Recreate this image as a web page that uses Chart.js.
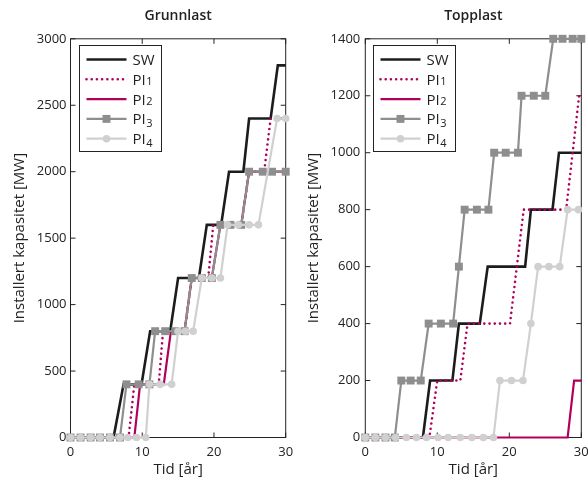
<!DOCTYPE html>
<html>
<head>
<meta charset="utf-8">
<script src="https://cdn.jsdelivr.net/npm/chart.js@4.4.1/dist/chart.umd.min.js"></script>
<style>
  html, body { margin: 0; padding: 0; background: #fff; }
  #wrap { position: relative; width: 588px; height: 484px; }
  .cell { position: absolute; top: 0; width: 294px; height: 484px; }
  #left { left: 0; }
  #right { left: 294px; }
</style>
</head>
<body>
<div id="wrap">
  <div class="cell" id="left"><canvas id="grunnlastChart"></canvas></div>
  <div class="cell" id="right"><canvas id="topplastChart"></canvas></div>
</div>
<script>
// series names, as in the legend
const seriesNames = ['SW', 'PI1', 'PI2', 'PI3', 'PI4'];

// Grunnlast (x = tid [år], y = MW)
const grunnSwX = [0, 6, 7.4, 9.9, 11.1, 13.9, 15, 17.9, 19, 21, 22.1, 24.1, 24.9, 27.9, 28.9, 30];
const grunnSwY = [0, 0, 400, 400, 800, 800, 1200, 1200, 1600, 1600, 2000, 2000, 2400, 2400, 2800, 2800];
const grunnPi1X = [0, 8.1, 8.9, 12.3, 12.9, 15.9, 16.9, 19.2, 19.9, 23.8, 24.9, 27.0, 27.9, 30];
const grunnPi1Y = [0, 0, 400, 400, 800, 800, 1200, 1200, 1600, 1600, 2000, 2000, 2400, 2400];
const grunnPi2X = [0, 8.9, 9.7, 13.0, 14.0, 15.9, 16.9, 19.7, 20.9, 23.8, 24.9, 30];
const grunnPi2Y = [0, 0, 400, 400, 800, 800, 1200, 1200, 1600, 1600, 2000, 2000];
const grunnPi3X = [0, 1.4, 2.8, 4.1, 5.5, 6.9, 7.8, 9.5, 11.0, 11.8, 13.2, 14.6, 15.9, 16.9, 18.3, 19.7, 20.9, 22.3, 23.8, 24.9, 26.8, 28.1, 30];
const grunnPi3Y = [0, 0, 0, 0, 0, 0, 400, 400, 400, 800, 800, 800, 800, 1200, 1200, 1200, 1600, 1600, 1600, 2000, 2000, 2000, 2000];
const grunnPi4X = [0, 1.4, 2.8, 4.1, 5.5, 6.9, 8.0, 9.2, 10.5, 11.0, 12.5, 14.1, 15.0, 16.0, 17.1, 18.3, 19.7, 20.9, 21.9, 23.4, 24.9, 26.2, 28.8, 30];
const grunnPi4Y = [0, 0, 0, 0, 0, 0, 0, 0, 0, 400, 400, 400, 800, 800, 800, 1200, 1200, 1200, 1600, 1600, 1600, 1600, 2400, 2400];

// Topplast
const toppSwX = [0, 8.0, 9.0, 12.1, 13.0, 15.9, 17.0, 22.2, 23.0, 26.0, 26.9, 30];
const toppSwY = [0, 0, 200, 200, 400, 400, 600, 600, 800, 800, 1000, 1000];
const toppPi1X = [0, 8.9, 10.0, 13.2, 14.2, 20.1, 22.0, 27.9, 29.7, 30];
const toppPi1Y = [0, 0, 200, 200, 400, 400, 800, 800, 1200, 1200];
const toppPi2X = [0, 28.1, 29.0, 30];
const toppPi2Y = [0, 0, 200, 200];
const toppPi3X = [0, 1.4, 2.8, 4.1, 5.0, 6.3, 7.7, 8.8, 10.5, 12.2, 13.0, 13.8, 15.5, 17.1, 17.9, 19.5, 21.2, 21.7, 23.4, 25.0, 26.1, 27.4, 28.8, 30];
const toppPi3Y = [0, 0, 0, 0, 200, 200, 200, 400, 400, 400, 600, 800, 800, 800, 1000, 1000, 1000, 1200, 1200, 1200, 1400, 1400, 1400, 1400];
const toppPi4X = [0, 1.4, 2.8, 4.2, 5.7, 7.1, 8.5, 10.1, 11.5, 13.2, 14.8, 16.4, 17.8, 18.7, 20.3, 21.9, 23.0, 24.0, 25.5, 27.0, 28.1, 29.6];
const toppPi4Y = [0, 0, 0, 0, 0, 0, 0, 0, 0, 0, 0, 0, 0, 200, 200, 200, 400, 600, 600, 600, 800, 800];

// axis ticks
const xTickValues = [0, 10, 20, 30];
const grunnYMax = 3000, grunnYStep = 500;
const toppYMax = 1400, toppYStep = 200;

const FONT = "'Open Sans', 'DejaVu Sans', sans-serif";
const INK = '#222';
const MAGENTA = '#b1005c';

const seriesStyles = [
  { borderColor: '#1c1c1c', borderWidth: 2.6, pointRadius: 0, order: 5 },
  { borderColor: MAGENTA, borderWidth: 2.6, borderDash: [0.01, 5.2], borderCapStyle: 'round', pointRadius: 0, order: 4 },
  { borderColor: MAGENTA, borderWidth: 2.2, pointRadius: 0, order: 3 },
  { borderColor: '#8e8e8e', borderWidth: 2.2, pointStyle: 'rect', pointRadius: 5.6, pointBackgroundColor: '#8e8e8e', order: 2 },
  { borderColor: '#d0d0d0', borderWidth: 2.2, pointStyle: 'circle', pointRadius: 3.8, pointBackgroundColor: '#d0d0d0', order: 1 }
];

function toPoints(xs, ys) {
  return xs.map((x, i) => ({ x, y: ys[i] }));
}

function makeDatasets(pairs) {
  return pairs.map(([xs, ys], i) => Object.assign({
    label: seriesNames[i],
    data: toPoints(xs, ys),
    fill: false,
    tension: 0,
    clip: false,
    pointBorderWidth: 0,
    pointHoverRadius: 0
  }, seriesStyles[i]));
}

// box with inward ticks on all four sides
const frameTicks = {
  id: 'frameTicks',
  beforeDatasetsDraw(chart) {
    const { ctx, chartArea: a, scales: { x, y } } = chart;
    ctx.save();
    ctx.strokeStyle = INK;
    ctx.lineWidth = 1;
    ctx.strokeRect(a.left, a.top, a.right - a.left, a.bottom - a.top);
    ctx.beginPath();
    x.ticks.forEach((t) => {
      const px = x.getPixelForValue(t.value);
      ctx.moveTo(px, a.bottom); ctx.lineTo(px, a.bottom - 5);
      ctx.moveTo(px, a.top); ctx.lineTo(px, a.top + 5);
    });
    y.ticks.forEach((t) => {
      const py = y.getPixelForValue(t.value);
      ctx.moveTo(a.left, py); ctx.lineTo(a.left + 5, py);
      ctx.moveTo(a.right, py); ctx.lineTo(a.right - 5, py);
    });
    ctx.stroke();
    ctx.restore();
  }
};

// legend drawn inside the plot, upper left, with a frame
const boxLegend = {
  id: 'boxLegend',
  afterDatasetsDraw(chart) {
    const { ctx, chartArea: a } = chart;
    const left = Math.round(a.left + 8) + 0.5, top = Math.round(a.top + 6) + 0.5;
    const w = 82, h = 106;
    ctx.save();
    ctx.fillStyle = '#fff';
    ctx.fillRect(left, top, w, h);
    ctx.strokeStyle = INK;
    ctx.lineWidth = 1;
    ctx.strokeRect(left, top, w, h);
    chart.data.datasets.forEach((ds, i) => {
      const cy = top + 14 + i * 19.8;
      ctx.strokeStyle = ds.borderColor;
      ctx.lineWidth = ds.borderWidth;
      ctx.lineCap = ds.borderCapStyle || 'butt';
      ctx.setLineDash(ds.borderDash || []);
      ctx.beginPath();
      ctx.moveTo(left + 7, cy);
      ctx.lineTo(left + 47, cy);
      ctx.stroke();
      ctx.setLineDash([]);
      if (ds.pointRadius > 0) {
        ctx.fillStyle = ds.pointBackgroundColor;
        Chart.helpers.drawPoint(ctx, { pointStyle: ds.pointStyle, radius: ds.pointRadius, rotation: 0, borderWidth: 0 }, left + 27, cy);
      }
      ctx.fillStyle = INK;
      ctx.textBaseline = 'alphabetic';
      ctx.textAlign = 'left';
      const base = cy + 5.5;
      const m = ds.label.match(/^(\D+)(\d)$/);
      if (m) {
        ctx.font = `15px ${FONT}`;
        ctx.fillText(m[1], left + 53, base);
        const wBase = ctx.measureText(m[1]).width;
        ctx.font = `11px ${FONT}`;
        const drop = (m[2] === '3' || m[2] === '4') ? 2.5 : 0;
        ctx.fillText(m[2], left + 53 + wBase + 0.5, base + drop);
      } else {
        ctx.font = `15px ${FONT}`;
        ctx.fillText(ds.label, left + 53, base);
      }
    });
    ctx.restore();
  }
};

function makeChart(id, title, pairs, yMax, yStep, yWidth, padRight, yTickPad) {
  return new Chart(document.getElementById(id), {
    type: 'line',
    data: { datasets: makeDatasets(pairs) },
    options: {
      responsive: true,
      maintainAspectRatio: false,
      animation: false,
      events: [],
      layout: { padding: { left: 0, right: padRight, top: 0, bottom: 0 } },
      plugins: {
        legend: { display: false },
        tooltip: { enabled: false },
        title: {
          display: true,
          text: title,
          fullSize: false,
          color: INK,
          font: { family: FONT, size: 14, weight: '600' },
          padding: { top: 8, bottom: 14 }
        }
      },
      scales: {
        x: {
          type: 'linear',
          min: 0,
          max: 30,
          afterBuildTicks: (scale) => { scale.ticks = xTickValues.map((v) => ({ value: v })); },
          afterFit: (scale) => {
            scale.height = 46.5;
            scale.paddingLeft = 0;
            scale.paddingRight = 0;
          },
          grid: { display: false, drawTicks: false },
          border: { display: false },
          ticks: { color: INK, padding: 7, font: { family: FONT, size: 13 }, maxRotation: 0, callback: (v) => String(v) },
          title: { display: true, text: 'Tid [år]', color: INK, font: { family: FONT, size: 15 }, padding: { top: 0, bottom: 5.6 } }
        },
        y: {
          min: 0,
          max: yMax,
          afterFit: (scale) => {
            scale.width = yWidth;
            scale.paddingTop = 0;
            scale.paddingBottom = 0;
          },
          grid: { display: false, drawTicks: false },
          border: { display: false },
          ticks: { stepSize: yStep, color: INK, padding: yTickPad, font: { family: FONT, size: 13 }, callback: (v) => String(v) },
          title: { display: true, text: 'Installert kapasitet [MW]', color: INK, font: { family: FONT, size: 15 }, padding: { top: 11, bottom: 0 } }
        }
      }
    },
    plugins: [frameTicks, boxLegend]
  });
}

makeChart('grunnlastChart', 'Grunnlast', [
  [grunnSwX, grunnSwY],
  [grunnPi1X, grunnPi1Y],
  [grunnPi2X, grunnPi2Y],
  [grunnPi3X, grunnPi3Y],
  [grunnPi4X, grunnPi4Y]
], grunnYMax, grunnYStep, 70.5, 8.3, 4);

makeChart('topplastChart', 'Topplast', [
  [toppSwX, toppSwY],
  [toppPi1X, toppPi1Y],
  [toppPi2X, toppPi2Y],
  [toppPi3X, toppPi3Y],
  [toppPi4X, toppPi4Y]
], toppYMax, toppYStep, 71.3, 6.7, 5);
</script>
</body>
</html>
